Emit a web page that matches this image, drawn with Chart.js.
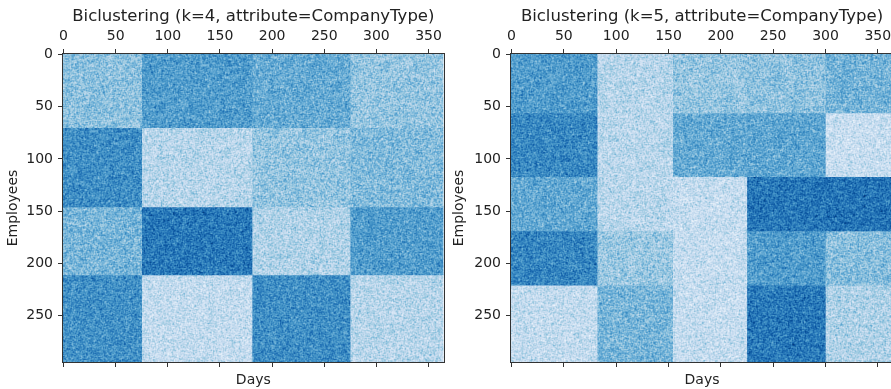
<!DOCTYPE html>
<html>
<head>
<meta charset="utf-8">
<script src="https://cdn.jsdelivr.net/npm/chart.js@4/dist/chart.umd.min.js"></script>
<style>
  html, body { margin: 0; padding: 0; background: #fff; overflow: hidden; width: 891px; height: 389px; }
  #left { position: absolute; left: 0; top: 0; }
  #right { position: absolute; left: 446px; top: 0; }
</style>
</head>
<body>
<canvas id="left" width="446" height="389"></canvas>
<canvas id="right" width="450" height="389"></canvas>
<script>
// matrix size (days x employees) and tick positions
const nDays = 365;
const nEmployees = 295;
const dayTicks = [0, 50, 100, 150, 200, 250, 300, 350];
const employeeTicks = [0, 50, 100, 150, 200, 250];

// k=4 biclusters: block edges and mean level (0..1 on the Blues scale)
const k4DayEdges = [0, 75, 181, 275, 365];
const k4EmployeeEdges = [0, 70, 146, 211, 295];
const k4Levels = [
  [0.42, 0.58, 0.52, 0.40],
  [0.64, 0.30, 0.40, 0.45],
  [0.47, 0.72, 0.32, 0.58],
  [0.63, 0.26, 0.64, 0.30],
];

// k=5 biclusters
const k5DayEdges = [0, 82, 154, 225, 300, 365];
const k5EmployeeEdges = [0, 56, 117, 169, 221, 295];
const k5Levels = [
  [0.58, 0.30, 0.39, 0.41, 0.48],
  [0.66, 0.29, 0.52, 0.54, 0.24],
  [0.53, 0.29, 0.25, 0.73, 0.74],
  [0.67, 0.38, 0.25, 0.58, 0.43],
  [0.26, 0.47, 0.25, 0.72, 0.32],
];

const BLUES = [
  [247, 251, 255], [222, 235, 247], [198, 219, 239], [158, 202, 225],
  [107, 174, 214], [66, 146, 198], [33, 113, 181], [8, 81, 156], [8, 48, 107],
];

function blues(t) {
  t = Math.min(1, Math.max(0, t)) * (BLUES.length - 1);
  const i = Math.min(BLUES.length - 2, Math.floor(t));
  const f = t - i;
  return BLUES[i].map((c, k) => Math.round(c + (BLUES[i + 1][k] - c) * f));
}

// deterministic hash used for the pixel grain of each block
function hash(n) {
  let x = Math.imul(n ^ 0x9e3779b9, 0x85ebca6b);
  x ^= x >>> 13;
  x = Math.imul(x, 0xc2b2ae35);
  x ^= x >>> 16;
  return (x >>> 0) / 4294967296;
}

let grainSeed = 1;
function grainPattern(level) {
  const size = 128;
  const seed = (grainSeed++) * 7919;
  const raw = new Float32Array(size * size);
  for (let p = 0; p < raw.length; p++) {
    raw[p] = hash(seed + p * 3) + hash(seed + p * 3 + 1) + hash(seed + p * 3 + 2) - 1.5;
  }
  const c = document.createElement('canvas');
  c.width = size; c.height = size;
  const g = c.getContext('2d');
  const img = g.createImageData(size, size);
  const at = (x, y) => raw[((y + size) % size) * size + ((x + size) % size)];
  for (let y = 0; y < size; y++) {
    for (let x = 0; x < size; x++) {
      // soften the grain a little so it reads like the rendered image
      const n = (4 * at(x, y) + at(x - 1, y) + at(x + 1, y) + at(x, y - 1) + at(x, y + 1)) / 8;
      const rgb = blues(level + n * 0.22);
      const p = (y * size + x) * 4;
      img.data[p] = rgb[0];
      img.data[p + 1] = rgb[1];
      img.data[p + 2] = rgb[2];
      img.data[p + 3] = 255;
    }
  }
  g.putImageData(img, 0, 0);
  return g.createPattern(c, 'repeat');
}

// each block is a flat line along its lower edge, filled up to its upper edge;
// blocks run a little past their far edges so neighbours leave no seam
function blockDatasets(dayEdges, empEdges, levels) {
  const sets = [];
  levels.forEach((row, r) => {
    row.forEach((level, c) => {
      const x0 = dayEdges[c] - 0.5, x1 = dayEdges[c + 1] + 0.3;
      const y0 = empEdges[r] - 0.5, y1 = empEdges[r + 1] + 0.3;
      sets.push({
        data: [{ x: x0, y: y1 }, { x: x1, y: y1 }],
        fill: { value: y0 },
        backgroundColor: grainPattern(level),
        borderWidth: 0,
        pointRadius: 0,
      });
    });
  });
  return sets;
}

const textColor = '#222';
const lineColor = '#333';
const font = { family: 'DejaVu Sans', size: 14 };

const frame = {
  id: 'frame',
  afterDraw(chart) {
    const { ctx, chartArea: a } = chart;
    ctx.save();
    ctx.strokeStyle = lineColor;
    ctx.lineWidth = 1;
    ctx.strokeRect(Math.round(a.left) - 0.5, Math.round(a.top) - 0.5,
      Math.round(a.right - a.left) + 1, Math.round(a.bottom - a.top) + 1);
    ctx.restore();
  },
};

function setTicks(values) {
  return (scale) => { scale.ticks = values.map((v) => ({ value: v })); };
}

function makeChart(id, title, dayEdges, empEdges, levels, leftWidth, padRight) {
  const grid = { drawOnChartArea: false, tickLength: 5, tickColor: lineColor };
  const xBase = { type: 'linear', min: -0.5, max: nDays - 0.5, afterBuildTicks: setTicks(dayTicks), border: { display: false } };
  return new Chart(document.getElementById(id), {
    type: 'line',
    data: { datasets: blockDatasets(dayEdges, empEdges, levels) },
    options: {
      responsive: false,
      animation: false,
      layout: { padding: { right: padRight, top: 0, bottom: 0, left: 0 } },
      plugins: { legend: { display: false }, tooltip: { enabled: false } },
      scales: {
        x: {
          ...xBase,
          position: 'bottom',
          grid,
          ticks: { display: false },
          title: { display: true, text: 'Days', color: textColor, font, padding: { top: 0, bottom: 0 } },
          afterFit: (s) => { s.height = 27; },
        },
        x2: {
          ...xBase,
          position: 'top',
          grid,
          ticks: { color: textColor, font, padding: 4, maxRotation: 0, autoSkip: false },
          title: { display: true, text: title, color: textColor, font: { family: 'DejaVu Sans', size: 16.5 }, padding: { top: 7, bottom: 0 } },
          afterFit: (s) => { s.height = 54; },
        },
        y: {
          type: 'linear',
          reverse: true,
          min: -0.5,
          max: nEmployees - 0.5,
          afterBuildTicks: setTicks(employeeTicks),
          border: { display: false },
          grid,
          ticks: { color: textColor, font, padding: 5 },
          title: { display: true, text: 'Employees', color: textColor, font, padding: { top: 5, bottom: 0 } },
          afterFit: (s) => { s.width = leftWidth; },
        },
      },
    },
    plugins: [frame],
  });
}

makeChart('left', 'Biclustering (k=4, attribute=CompanyType)', k4DayEdges, k4EmployeeEdges, k4Levels, 63, 2);
makeChart('right', 'Biclustering (k=5, attribute=CompanyType)', k5DayEdges, k5EmployeeEdges, k5Levels, 65, 3);
</script>
</body>
</html>
